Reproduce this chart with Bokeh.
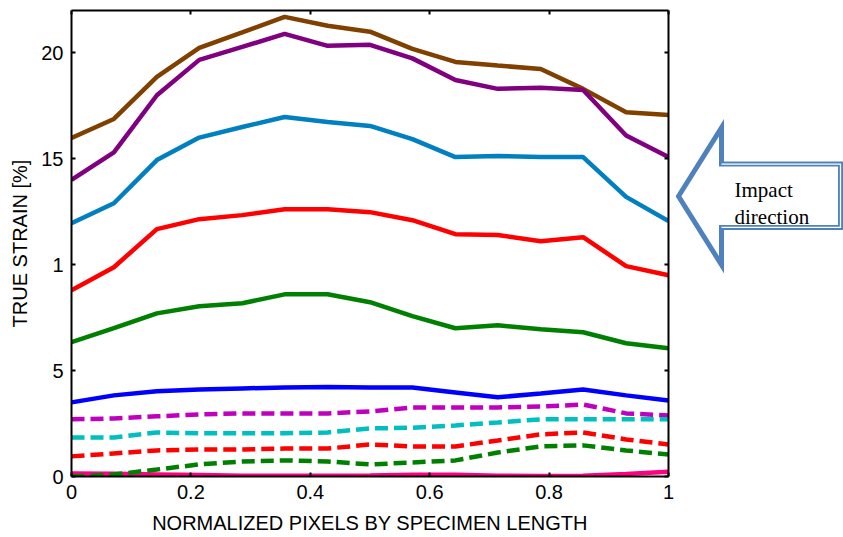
from bokeh.plotting import figure
from bokeh.models import LinearAxis, FixedTicker, Range1d
from bokeh.layouts import row
from bokeh.embed import file_html
from bokeh.resources import INLINE
from bokeh.core.properties import value

# ---- data ----
x = [0, 0.071, 0.143, 0.214, 0.286, 0.357, 0.429, 0.5, 0.571, 0.643, 0.714, 0.786, 0.857, 0.929, 1]

brown_solid  = [15.98, 16.88, 18.87, 20.24, 20.97, 21.70, 21.28, 21.00, 20.19, 19.57, 19.40, 19.24, 18.30, 17.20, 17.07]
purple_solid = [14.00, 15.30, 18.00, 19.67, 20.28, 20.90, 20.33, 20.38, 19.74, 18.72, 18.30, 18.35, 18.25, 16.10, 15.08]
lblue_solid  = [11.96, 12.90, 14.94, 16.00, 16.50, 16.97, 16.74, 16.55, 15.93, 15.08, 15.13, 15.08, 15.08, 13.20, 12.06]
red_solid    = [8.79, 9.88, 11.68, 12.15, 12.34, 12.62, 12.62, 12.48, 12.10, 11.44, 11.40, 11.11, 11.30, 9.93, 9.50]
green_solid  = [6.34, 7.00, 7.70, 8.04, 8.18, 8.60, 8.60, 8.23, 7.57, 7.00, 7.14, 6.95, 6.81, 6.29, 6.05]
blue_solid   = [3.50, 3.83, 4.02, 4.11, 4.16, 4.20, 4.22, 4.20, 4.20, 3.97, 3.74, 3.92, 4.11, 3.83, 3.59]
pink_solid   = [0.14, 0.13, 0.10, 0.07, 0.04, 0.03, 0.03, 0.05, 0.08, 0.08, 0.04, 0.02, 0.04, 0.12, 0.22]

magenta_dash = [2.70, 2.74, 2.84, 2.93, 2.98, 2.98, 2.98, 3.07, 3.26, 3.26, 3.26, 3.30, 3.40, 2.98, 2.88]
cyan_dash    = [1.84, 1.84, 2.08, 2.04, 2.04, 2.04, 2.08, 2.27, 2.30, 2.41, 2.55, 2.70, 2.70, 2.70, 2.70]
red_dash     = [0.95, 1.09, 1.23, 1.28, 1.28, 1.32, 1.32, 1.51, 1.42, 1.42, 1.70, 1.99, 2.08, 1.75, 1.51]
green_dash   = [0.00, 0.09, 0.33, 0.57, 0.71, 0.76, 0.71, 0.57, 0.66, 0.76, 1.13, 1.42, 1.47, 1.23, 1.04]

x_ticks = [0, 0.2, 0.4, 0.6, 0.8, 1]
x_tick_labels = ["0", "0.2", "0.4", "0.6", "0.8", "1"]
y_ticks = [0, 5, 10, 15, 20]
y_tick_labels = ["0", "5", "1", "15", "20"]

x_label = "NORMALIZED PIXELS BY SPECIMEN LENGTH"
y_label = "TRUE STRAIN [%]"
arrow_text = ["Impact", "direction"]

FONT = "Liberation Sans"

p = figure(width=675, height=537, x_range=Range1d(0, 1), y_range=Range1d(0, 22),
           output_backend="svg", toolbar_location=None,
           min_border_left=71, min_border_right=7, min_border_top=10, min_border_bottom=61)
p.xgrid.visible = False
p.ygrid.visible = False
p.outline_line_color = None
p.background_fill_color = "white"

bottom_ax = p.below[0]
left_ax = p.left[0]
bottom_ax.axis_label = x_label
left_ax.axis_label = y_label
top_ax = LinearAxis()
right_ax = LinearAxis()
p.add_layout(top_ax, "above")
p.add_layout(right_ax, "right")

def style(ax, ticks, labels, show):
    ax.ticker = FixedTicker(ticks=ticks)
    ax.axis_line_color = "black"
    ax.axis_line_width = 2
    ax.major_tick_line_color = "black"
    ax.major_tick_line_width = 2
    ax.major_tick_in = 4
    ax.major_tick_out = 0
    ax.minor_tick_line_color = None
    ax.major_label_text_font = FONT
    ax.major_label_text_color = "black"
    ax.axis_label_text_font = FONT
    ax.axis_label_text_font_style = "normal"
    ax.axis_label_text_color = "black"
    ax.major_label_text_font_size = "20px"
    ax.axis_label_text_font_size = "20px"
    if show:
        ax.major_label_overrides = {t: l for t, l in zip(ticks, labels)}
    else:
        ax.major_label_overrides = {t: "" for t in ticks}
        ax.major_label_standoff = 0

style(bottom_ax, x_ticks, x_tick_labels, True)
style(left_ax, y_ticks, y_tick_labels, True)
style(top_ax, x_ticks, x_tick_labels, False)
style(right_ax, y_ticks, y_tick_labels, False)
bottom_ax.major_label_standoff = 8
bottom_ax.axis_label_standoff = 10
left_ax.major_label_standoff = 8
left_ax.axis_label_standoff = 7

LW = 4.5
p.line(x, pink_solid, line_color="#FF0080", line_width=LW)
for ys, c in [(brown_solid, "#804000"), (purple_solid, "#800080"), (lblue_solid, "#0080C0"),
              (red_solid, "#FF0000"), (green_solid, "#008000"), (blue_solid, "#0000FF")]:
    p.line(x, ys, line_color=c, line_width=LW)
for ys, c in [(magenta_dash, "#BF00BF"), (cyan_dash, "#00BFBF"),
              (red_dash, "#FF0000"), (green_dash, "#008000")]:
    p.line(x, ys, line_color=c, line_width=LW, line_dash="13 6")

# ---- arrow annotation panel ----
a = figure(width=168, height=537, x_range=Range1d(0, 168), y_range=Range1d(537, 0),
           output_backend="svg", toolbar_location=None,
           min_border_left=0, min_border_right=0, min_border_top=0, min_border_bottom=0)
a.axis.visible = False
a.xgrid.visible = False
a.ygrid.visible = False
a.outline_line_color = None

arrow_x = [3, 46, 46, 165, 165, 46, 46]
arrow_y = [214, 135, 177, 177, 250, 250, 293]
a.patch(arrow_x, arrow_y, fill_color="white", line_color="#4F81BD", line_width=5, line_join="miter")
a.line([46, 165, 165, 46], [177, 177, 250, 250], line_color="white", line_width=1.3, line_join="miter")
a.text([59, 59], [207, 238], text=arrow_text, text_font=value("Liberation Serif"),
       text_font_size="21px", text_color="black", text_baseline="alphabetic")

out = row(p, a)
open("out.html", "w").write(file_html(out, INLINE))
